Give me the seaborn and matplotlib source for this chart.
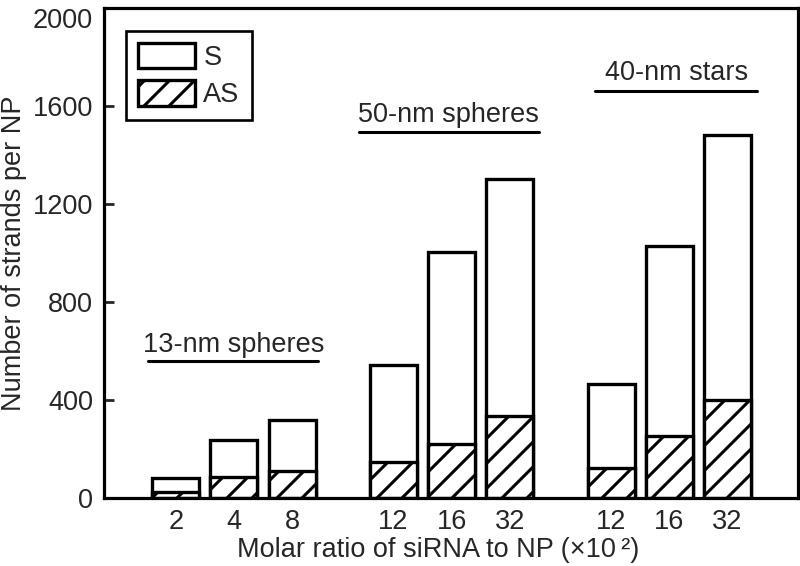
import matplotlib
matplotlib.use("Agg")
import matplotlib.pyplot as plt
import seaborn as sns
import pandas as pd
from matplotlib.patches import Patch

# ---- data ----
tick_labels = ["2", "4", "8", "12", "16", "32", "12", "16", "32"]
positions = [0, 1, 2, 3.75, 4.75, 5.75, 7.5, 8.5, 9.5]
groups = ["13-nm spheres"] * 3 + ["50-nm spheres"] * 3 + ["40-nm stars"] * 3
total_strands = [81, 235, 318, 543, 1006, 1300, 467, 1030, 1481]   # S + AS
as_strands = [23, 85, 111, 149, 221, 334, 122, 252, 400]
s_strands = [t - a for t, a in zip(total_strands, as_strands)]

df = pd.DataFrame({"pos": positions, "group": groups, "S": s_strands,
                   "AS": as_strands, "total": total_strands})

DPI = 150
K = 100 / DPI  # convert "points at 100 dpi" to points at DPI

sns.set_theme(style="ticks")
plt.rcParams["font.family"] = ["Liberation Sans", "DejaVu Sans"]
plt.rcParams["hatch.linewidth"] = 2.2 * K

FS = 19.5 * K
fig = plt.figure(figsize=(800 / DPI, 566 / DPI), dpi=DPI)
ax = fig.add_axes([0.13, 0.12, 0.8675, 0.866])

lw = 2.4 * K
sns.barplot(data=df, x="pos", y="total", native_scale=True, orient="x",
            width=0.81, color="white", edgecolor="black", linewidth=lw,
            errorbar=None, saturation=1, ax=ax)
sns.barplot(data=df, x="pos", y="AS", native_scale=True, orient="x",
            width=0.81, color="white", edgecolor="black", linewidth=lw,
            errorbar=None, saturation=1, hatch="//", ax=ax)

ax.set_xlim(-1.24, 10.72)
ax.set_ylim(0, 2000)
ax.set_yticks([0, 400, 800, 1200, 1600, 2000])
ax.set_xticks(positions)
ax.set_xticklabels(tick_labels)
ax.tick_params(axis="y", direction="in", length=7 * K, width=2 * K,
               labelsize=FS, pad=8 * K)
ax.tick_params(axis="x", length=0, labelsize=FS, pad=8 * K)
ax.get_yticklabels()[-1].set_verticalalignment("top")
for sp in ax.spines.values():
    sp.set_visible(True)
    sp.set_linewidth(2.3 * K)
    sp.set_color("black")

ax.set_xlabel("Molar ratio of siRNA to NP (×10\u2009²)", fontsize=FS)
ax.xaxis.set_label_coords(0.482, -0.08)
ax.set_ylabel("Number of strands per NP", fontsize=FS, labelpad=4 * K)

# group annotations
ann = [("13-nm spheres", 1.0, 597, -0.48, 2.45, 560),
       ("50-nm spheres", 4.69, 1533, 3.15, 6.26, 1492),
       ("40-nm stars", 8.63, 1707, 7.22, 10.01, 1659)]
for txt, tx, ty, x0, x1, ly in ann:
    ax.text(tx, ty, txt, ha="center", va="baseline", fontsize=FS)
    ax.plot([x0, x1], [ly, ly], color="black", lw=2.2 * K)

handles = [Patch(facecolor="white", edgecolor="black", linewidth=lw, label="S"),
           Patch(facecolor="white", edgecolor="black", linewidth=lw, hatch="//", label="AS")]
leg = ax.legend(handles=handles, loc="upper left", bbox_to_anchor=(0.032, 0.953),
                fontsize=FS, frameon=True, fancybox=False, framealpha=1,
                edgecolor="black", handlelength=2.1, handleheight=1.05,
                handletextpad=0.3, borderpad=0.45, labelspacing=0.35,
                borderaxespad=0)
leg.get_frame().set_linewidth(1.9 * K)

fig.savefig("out.png", dpi=DPI)
